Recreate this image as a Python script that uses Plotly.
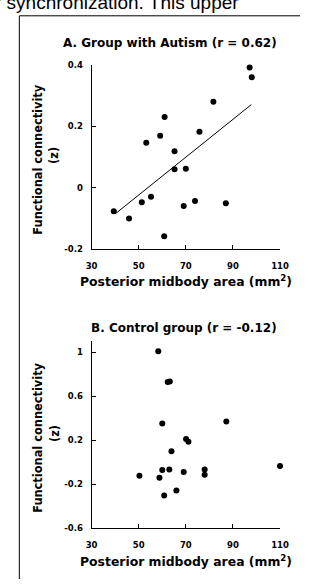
import plotly.graph_objects as go

W, H = 309, 584

# ---- data ----
autism_area = [97.1, 98.0, 81.7, 61.0, 59.1, 53.2, 75.8, 65.2, 65.2, 70.0,
               39.4, 45.9, 51.3, 55.2, 69.1, 73.9, 60.8, 87.0]
autism_fc = [0.391, 0.359, 0.279, 0.230, 0.169, 0.146, 0.182, 0.118, 0.060, 0.061,
             -0.077, -0.101, -0.048, -0.030, -0.060, -0.044, -0.158, -0.051]
autism_fit_area = [40.1, 97.8]
autism_fit_fc = [-0.085, 0.270]

control_area = [58.3, 62.3, 63.2, 60.0, 87.2, 70.1, 71.1, 63.9, 50.3, 58.8,
                60.0, 63.0, 69.1, 78.0, 78.0, 110.0, 60.8, 66.0]
control_fc = [1.01, 0.73, 0.735, 0.353, 0.371, 0.21, 0.187, 0.10, -0.123, -0.141,
              -0.072, -0.067, -0.088, -0.067, -0.114, -0.034, -0.302, -0.257]

x_ticks = [30, 50, 70, 90, 110]
x_tick_labels = ["30", "50", "70", "90", "110"]
a_y_ticks = [-0.2, 0, 0.2, 0.4]
a_y_tick_labels = ["-0.2", "0", "0.2", "0.4"]
b_y_ticks = [-0.6, -0.2, 0.2, 0.6, 1.0]
b_y_tick_labels = ["-0.6", "-0.2", "0.2", "0.6", "1"]

title_a = "A. Group with Autism (r = 0.62)"
title_b = "B. Control group (r = -0.12)"
x_title = "Posterior midbody area (mm<sup>2</sup>)"
y_title_1 = "Functional connectivity"
y_title_2 = "(z)"
top_text = "r synchronization. This upper"

FONT = "DejaVu Sans"


def px(x):
    return x / W


def py(y):
    return 1 - y / H


fig = go.Figure()
fig.add_trace(go.Scatter(x=autism_area, y=autism_fc, mode="markers",
                         marker=dict(color="black", size=6), xaxis="x", yaxis="y",
                         cliponaxis=False, showlegend=False))
fig.add_trace(go.Scatter(x=autism_fit_area, y=autism_fit_fc, mode="lines",
                         line=dict(color="black", width=1), xaxis="x", yaxis="y",
                         showlegend=False))
fig.add_trace(go.Scatter(x=control_area, y=control_fc, mode="markers",
                         marker=dict(color="black", size=6), xaxis="x2", yaxis="y2",
                         cliponaxis=False, showlegend=False))

tickfont = dict(family=FONT, size=8.5, color="black", weight="bold")
common_x = dict(range=[30, 110], tickvals=x_ticks, ticktext=x_tick_labels,
                showline=True, linecolor="black", linewidth=1, ticks="inside",
                ticklen=4, tickcolor="black", showgrid=False, zeroline=False,
                tickfont=tickfont, ticklabelstandoff=9,
                domain=[px(90), px(288)])
common_y = dict(showline=True, linecolor="black", linewidth=1, ticks="inside",
                ticklen=4, tickcolor="black", showgrid=False, zeroline=False,
                tickfont=tickfont, ticklabelstandoff=6)

a_top, a_bot = 60.7, 248.3
b_top, b_bot = 342.1, 532.3

fig.update_layout(
    width=W, height=H,
    margin=dict(l=0, r=0, t=0, b=0),
    paper_bgcolor="white", plot_bgcolor="white",
    xaxis=dict(anchor="y", **common_x),
    yaxis=dict(anchor="x", range=[-0.2, 0.4], tickvals=a_y_ticks,
               ticktext=a_y_tick_labels, domain=[py(a_bot), py(a_top)], **common_y),
    xaxis2=dict(anchor="y2", **common_x),
    yaxis2=dict(anchor="x2", range=[-0.6, 1.1], tickvals=b_y_ticks,
                ticktext=b_y_tick_labels, domain=[py(b_bot), py(b_top)], **common_y),
)

bold = dict(family=FONT, color="black", weight="bold")
anns = []
# panel titles
anns.append(dict(text=title_a, x=px(287), y=py(38.5), xanchor="right", yanchor="middle",
                 font=dict(size=12, **bold)))
anns.append(dict(text=title_b, x=px(287), y=py(329), xanchor="right", yanchor="middle",
                 font=dict(size=12, **bold)))
# x titles
for yc in (281, 566):
    anns.append(dict(text=x_title, x=px(189), y=py(yc), xanchor="center", yanchor="middle",
                     font=dict(size=12.4, **bold)))
# y titles
for yc in (157, 440):
    anns.append(dict(text=y_title_1, x=px(34), y=py(yc), textangle=-90,
                     xanchor="center", yanchor="middle", font=dict(size=11.4, **bold)))
    anns.append(dict(text=y_title_2, x=px(51), y=py(yc - 4), textangle=-90,
                     xanchor="center", yanchor="middle", font=dict(size=11.4, **bold)))
# cropped page text at top
anns.append(dict(text=top_text, x=px(247), y=py(10.5), xanchor="right", yanchor="bottom",
                 font=dict(family="Liberation Sans", size=19, color="black")))
for a in anns:
    a.update(xref="paper", yref="paper", showarrow=False)
fig.update_layout(annotations=anns)

# page frame
fig.add_shape(type="line", xref="paper", yref="paper", x0=px(14), x1=1.0,
              y0=py(11), y1=py(11), line=dict(color="black", width=1))
fig.add_shape(type="line", xref="paper", yref="paper", x0=px(14), x1=px(14),
              y0=py(11), y1=0, line=dict(color="black", width=1))

fig.write_html("out.html", config={"displayModeBar": False},
               post_script="document.body.style.margin='0px';")
